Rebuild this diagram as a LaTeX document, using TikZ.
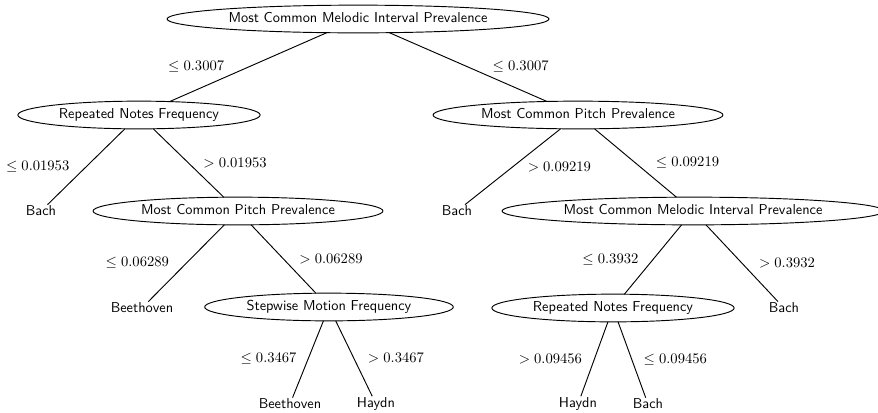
\documentclass[tikz,border=0pt]{standalone}
\usepackage{amsmath, amssymb}
\usepackage{tikz,tkz-graph}
\usetikzlibrary{shapes.geometric}
\tikzstyle{splitNode}=[shape = ellipse, draw, line width = 0.7pt, font = \sffamily\fontsize{10.75}{13}\selectfont, text height = 7.5pt, text depth = 2pt, inner xsep = 4.2pt, inner ysep = 2.6pt, outer sep = 0pt]
\tikzstyle{leafNode}=[shape = rectangle, font = \sffamily\fontsize{10.75}{13}\selectfont, inner sep = 1pt, outer sep = 0pt]

\begin{document}
\begin{tikzpicture}[x = 0.75pt, y = -0.75pt]
\tikzstyle{VertexStyle} = []
\tikzstyle{EdgeStyle} = [draw, line width = 0.7pt]
\tikzstyle{LabelStyle} = [fill = none, inner sep = 0pt, font = \fontsize{11.3}{13}\selectfont]
\useasboundingbox (0,0) rectangle (878,412);
\Vertex[style = splitNode, x = 358, y = 19, L = {Most Common Melodic Interval Prevalence}]{v0}
\Vertex[style = splitNode, x = 139, y = 115, L = {Repeated Notes Frequency}]{v1}
\Vertex[style = splitNode, x = 578, y = 115, L = {Most Common Pitch Prevalence}]{v2}
\Vertex[style = leafNode, x = 41, y = 211, L = {Bach}]{v3}
\Vertex[style = splitNode, x = 238, y = 211, L = {Most Common Pitch Prevalence}]{v4}
\Vertex[style = leafNode, x = 457, y = 211, L = {Bach}]{v5}
\Vertex[style = splitNode, x = 693, y = 211, L = {Most Common Melodic Interval Prevalence}]{v6}
\Vertex[style = leafNode, x = 142, y = 308, L = {Beethoven}]{v7}
\Vertex[style = splitNode, x = 329, y = 307, L = {Stepwise Motion Frequency}]{v8}
\Vertex[style = splitNode, x = 613, y = 308, L = {Repeated Notes Frequency}]{v9}
\Vertex[style = leafNode, x = 784, y = 308, L = {Bach}]{v10}
\Vertex[style = leafNode, x = 290, y = 404, L = {Beethoven}]{v11}
\Vertex[style = leafNode, x = 376, y = 404, L = {Haydn}]{v12}
\Vertex[style = leafNode, x = 578, y = 404, L = {Haydn}]{v13}
\Vertex[style = leafNode, x = 648, y = 404, L = {Bach}]{v14}
\Edge[label = {$\leq 0.3007$}, labelstyle = {xshift = -39pt}](v0)(v1)
\Edge[label = {$\leq 0.3007$}, labelstyle = {xshift = 39.4pt}](v0)(v2)
\Edge[label = {$\leq 0.01953$}, labelstyle = {xshift = -36.4pt}](v1)(v3)
\Edge[label = {$> 0.01953$}, labelstyle = {xshift = 34.9pt}](v1)(v4)
\Edge[label = {$> 0.09219$}, labelstyle = {xshift = 34.9pt}](v2)(v5)
\Edge[label = {$\leq 0.09219$}, labelstyle = {xshift = 39pt}](v2)(v6)
\Edge[label = {$\leq 0.06289$}, labelstyle = {xshift = -36.75pt}](v4)(v7)
\Edge[label = {$> 0.06289$}, labelstyle = {xshift = 35.6pt}](v4)(v8)
\Edge[label = {$\leq 0.3932$}, labelstyle = {xshift = -31.9pt}](v6)(v9)
\Edge[label = {$> 0.3932$}, labelstyle = {xshift = 33.75pt}](v6)(v10)
\Edge[label = {$\leq 0.3467$}, labelstyle = {xshift = -29.6pt}](v8)(v11)
\Edge[label = {$> 0.3467$}, labelstyle = {xshift = 31.5pt}](v8)(v12)
\Edge[label = {$> 0.09456$}, labelstyle = {xshift = -33pt}](v9)(v13)
\Edge[label = {$\leq 0.09456$}, labelstyle = {xshift = 32.6pt}](v9)(v14)
\end{tikzpicture}
\end{document}
